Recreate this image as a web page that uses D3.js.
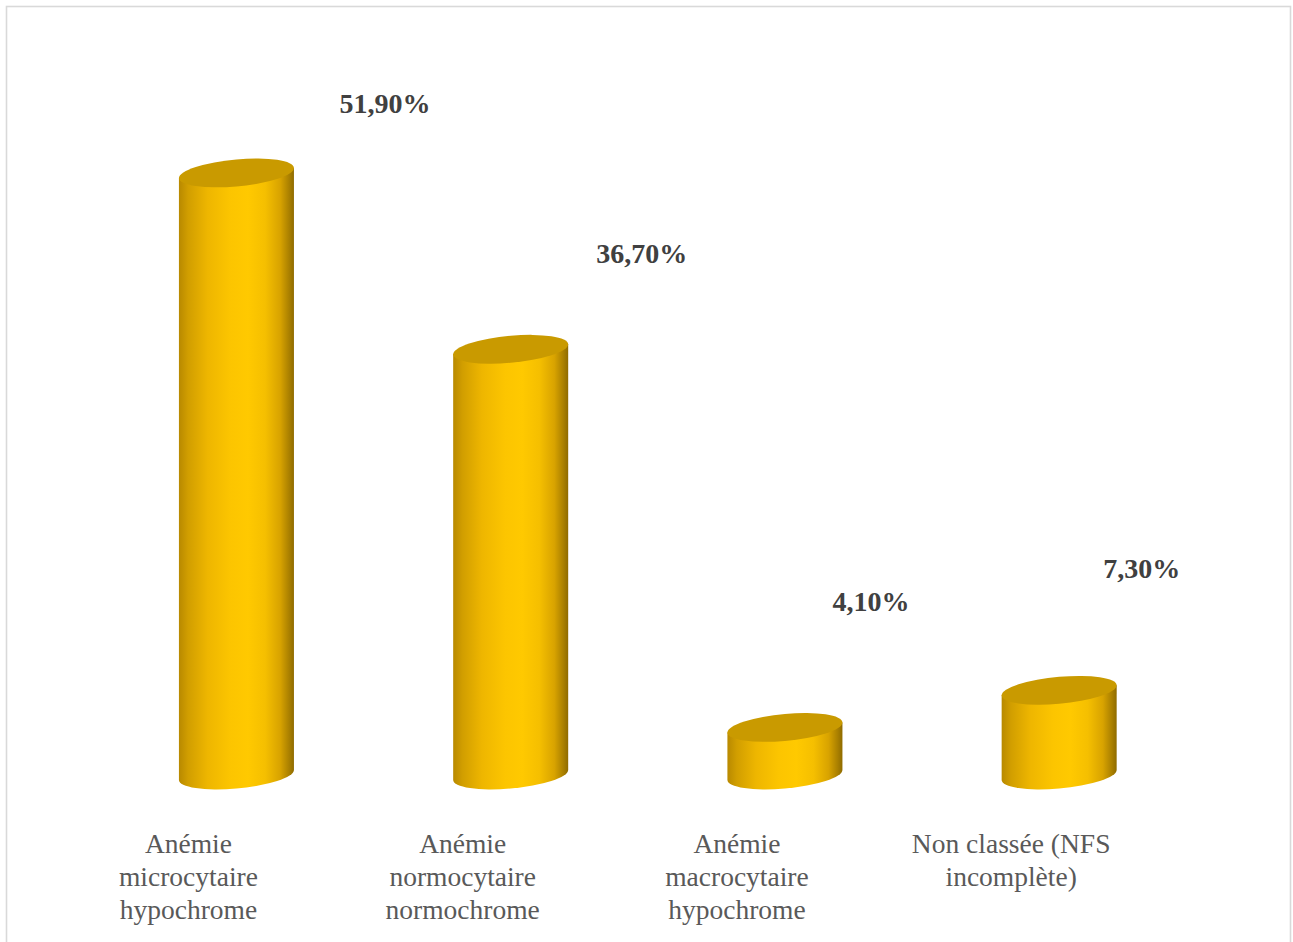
<!DOCTYPE html>
<html>
<head>
<meta charset="utf-8">
<script src="https://cdn.jsdelivr.net/npm/d3@7"></script>
<style>
  html, body { margin: 0; padding: 0; background: #ffffff; }
  svg { display: block; }
</style>
</head>
<body>
<svg id="chart" width="1293" height="942"></svg>
<script>
// Répartition des types d'anémie
const categories = [
  ["Anémie", "microcytaire", "hypochrome"],
  ["Anémie", "normocytaire", "normochrome"],
  ["Anémie", "macrocytaire", "hypochrome"],
  ["Non classée (NFS", "incomplète)"]
];
const values = [51.9, 36.7, 4.1, 7.3];

// French number formatting: decimal comma, two decimals
const fr = d3.formatLocale({ decimal: ",", thousands: " ", grouping: [3], currency: ["", " €"] });
const fmt = v => fr.format(".2f")(v) + "%";

const W = 1293, H = 942;
const svg = d3.select("#chart");

// Light frame around the chart area
svg.append("rect")
  .attr("x", 6.5).attr("y", 6.5)
  .attr("width", 1284).attr("height", 942)
  .attr("fill", "none")
  .attr("stroke", "#d9d9d9")
  .attr("stroke-width", 1.6);

const x = d3.scaleBand()
  .domain(d3.range(values.length))
  .range([99.4, 1196.2])
  .paddingInner(0.5806)
  .paddingOuter(0.29);

const y = d3.scaleLinear().domain([0, 60]).range([775, 79]);

// Horizontal shading of the cylinder wall
const defs = svg.append("defs");
const grad = defs.append("linearGradient")
  .attr("id", "wall").attr("x1", "0%").attr("x2", "100%").attr("y1", "0%").attr("y2", "0%");
[
  [0, "#b88900"], [0.08, "#d19e00"], [0.25, "#eeb600"], [0.45, "#fcc500"],
  [0.6, "#ffc900"], [0.75, "#f5bf00"], [0.88, "#d8a300"], [0.96, "#a97f00"], [1, "#8f6b00"]
].forEach(([o, c]) => grad.append("stop").attr("offset", o).attr("stop-color", c));

const ry = 13.5;
const tilt = -5; // degrees of skew for the elliptical caps

const bars = svg.append("g").selectAll("g.cyl")
  .data(values)
  .join("g")
  .attr("class", "cyl")
  .attr("transform", (d, i) => `translate(${x(i) + x.bandwidth() / 2},0) skewY(${tilt})`);

bars.each(function (d) {
  const g = d3.select(this);
  const rx = x.bandwidth() / 2;
  const top = y(d), base = y(0);
  g.append("path")
    .attr("d", `M${-rx},${top} L${-rx},${base} A${rx},${ry} 0 0 0 ${rx},${base} L${rx},${top} Z`)
    .attr("fill", "url(#wall)");
  g.append("ellipse")
    .attr("cx", 0).attr("cy", top)
    .attr("rx", rx).attr("ry", ry)
    .attr("fill", "#c99a00");
});

// Value labels, nudged up and to the right of each cylinder top
const labelNudge = [[148.5, -60], [131, -86], [86, -116], [82.5, -112]];
svg.append("g").selectAll("text")
  .data(values)
  .join("text")
  .attr("x", (d, i) => x(i) + x.bandwidth() / 2 + labelNudge[i][0])
  .attr("y", (d, i) => y(d) + labelNudge[i][1])
  .attr("text-anchor", "middle")
  .attr("font-family", "'Liberation Serif', 'Times New Roman', serif")
  .attr("font-weight", "bold")
  .attr("font-size", 28)
  .attr("fill", "#404040")
  .text(d => fmt(d));

// Category labels below the cylinders
const cat = svg.append("g").selectAll("text")
  .data(categories)
  .join("text")
  .attr("text-anchor", "middle")
  .attr("font-family", "'Liberation Serif', 'Times New Roman', serif")
  .attr("font-size", 27.5)
  .attr("fill", "#595959")
  .attr("transform", (d, i) => `translate(${x(i) + x.bandwidth() / 2 - 48},853)`);

cat.selectAll("tspan")
  .data(d => d)
  .join("tspan")
  .attr("x", 0)
  .attr("y", (d, j) => j * 33)
  .text(d => d);
</script>
</body>
</html>
